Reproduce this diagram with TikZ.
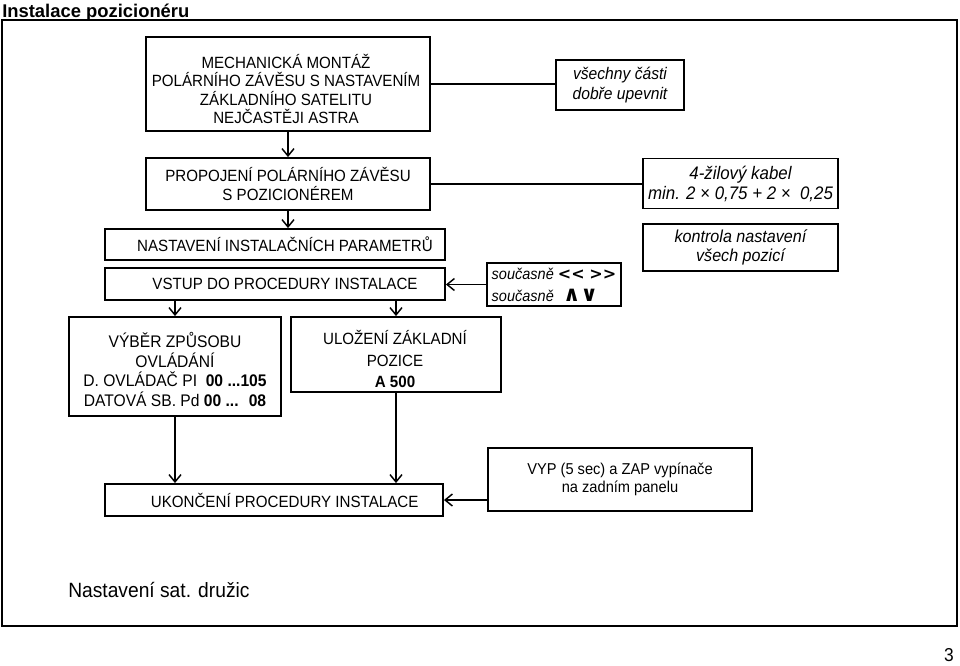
\documentclass[tikz,border=0pt]{standalone}
\usepackage{fontspec}
\setmainfont{Liberation Sans}[FakeStretch=0.93]
\newfontfamily\plainfont{Liberation Sans}
\newfontfamily\djvfont{DejaVu Sans}
\usetikzlibrary{arrows.meta}
\newcommand\mainsz{\fontsize{12.2}{13.9}\selectfont}
\newcommand\itsz{\fontsize{12.6}{14.6}\selectfont\itshape}
\tikzset{
  box/.style={draw, line width=1.4pt, inner sep=1.5pt, align=center, font=\mainsz},
  txt/.style={inner sep=0pt, align=center, font=\mainsz},
  ibox/.style={box, font=\itsz},
  conn/.style={line width=1.1pt},
  arr/.style={conn, -{Straight Barb[length=5.5pt,width=9pt]}},
}
\begin{document}
\begin{tikzpicture}[x=0.75pt,y=-0.75pt]
\useasboundingbox (0,0) rectangle (960,665);
% frame and title
\draw[line width=1.3pt] (2,20) rectangle (957,626);
\node[anchor=base west, inner sep=0pt, font=\plainfont\bfseries\fontsize{13.8}{16}\selectfont] (title) at (2,17) {Instalace pozicionéru};
% main column
\node[box, minimum width=213pt, minimum height=70.5pt] (b1) at (288,84) {};
\node[txt] (b1t) at (286,89) {MECHANICKÁ MONTÁŽ\\POLÁRNÍHO ZÁVĚSU S NASTAVENÍM\\ZÁKLADNÍHO SATELITU\\NEJČASTĚJI ASTRA};
\node[box, minimum width=213pt, minimum height=39pt] (b2) at (288,184)
  {PROPOJENÍ POLÁRNÍHO ZÁVĚSU\\S POZICIONÉREM};
\node[box, minimum width=255pt, minimum height=23.25pt] (b3) at (275,244.5)
  {\hspace*{15pt}NASTAVENÍ INSTALAČNÍCH PARAMETRŮ};
\node[box, minimum width=255pt, minimum height=24pt] (b4) at (275,284)
  {\hspace*{15pt}VSTUP DO PROCEDURY INSTALACE};
\node[box, minimum width=159pt, minimum height=74.25pt] (b5) at (175,366.5) {};
\node[txt, font=\fontsize{12.6}{14.9}\selectfont] (b5t) at (175,369.5)
  {VÝBĚR ZPŮSOBU\\OVLÁDÁNÍ\\D. OVLÁDAČ PI \ \textbf{00 ...105}\\DATOVÁ SB. Pd \textbf{00 ... \ 08}};
\node[box, minimum width=157.5pt, minimum height=56.25pt] (b6) at (396,354.5) {};
\node[txt, font=\fontsize{12.2}{16}\selectfont] (b6t) at (395,359) {ULOŽENÍ ZÁKLADNÍ\\POZICE\\\textbf{A 500}};
\node[box, minimum width=253.5pt, minimum height=24pt] (b7) at (274,500)
  {\hspace*{16pt}UKONČENÍ PROCEDURY INSTALACE};
\node[box, minimum width=198pt, minimum height=47.25pt, font=\fontsize{11.8}{13.5}\selectfont] (b8) at (620,479.5)
  {VYP (5 sec) a ZAP vypínače\\na zadním panelu};
% side notes
\node[ibox, minimum width=96pt, minimum height=37.5pt] (r1) at (620,85)
  {všechny části\\dobře upevnit};
\node[ibox, minimum width=146.25pt, minimum height=37.5pt, font=\fontsize{13.6}{15}\selectfont\itshape] (r2) at (740.5,183.5)
  {4-žilový kabel\\min. 2 × 0,75 + 2 × \ 0,25};
\node[ibox, minimum width=146.25pt, minimum height=35.25pt, font=\fontsize{13}{13.9}\selectfont\itshape] (r3) at (740.5,247.5)
  {kontrola nastavení\\všech pozicí};
\node[ibox, minimum width=100.5pt, minimum height=32.25pt, align=left, inner sep=1pt, font=\fontsize{11.7}{16.5}\selectfont\itshape] (r4) at (554,284.5)
  {současně {\upshape\bfseries\djvfont\fontsize{12}{12}\selectfont<<\hspace{0.3em}>>}\\současně\hspace{0.6em}{\upshape\bfseries\djvfont\fontsize{16}{12}\selectfont ∧∨}};
% connectors
\draw[conn] (b1.east) -- (b1.east -| r1.west);
\draw[conn] (b2.east) -- (b2.east -| r2.west);
\draw[arr] (b1.south) -- (b2.north);
\draw[arr] (b2.south) -- (b2.south |- b3.north);
\draw[arr] (r4.west) -- (r4.west -| b4.east);
\draw[arr] (b4.south -| b5.north) -- (b5.north);
\draw[arr] (b4.south -| b6.north) -- (b6.north);
\draw[arr] (b5.south) -- (b5.south |- b7.north);
\draw[arr] (b6.south) -- (b6.south |- b7.north);
\draw[arr] (b8.west |- b7.east) -- (b7.east);
% footer texts
\node[anchor=west, inner sep=0pt, font=\fontsize{15.5}{17}\selectfont] (foot) at (68,590) {Nastavení sat. družic};
\node[inner sep=0pt, font=\fontsize{14}{16}\selectfont] (page) at (949,655) {3};
\end{tikzpicture}
\end{document}
